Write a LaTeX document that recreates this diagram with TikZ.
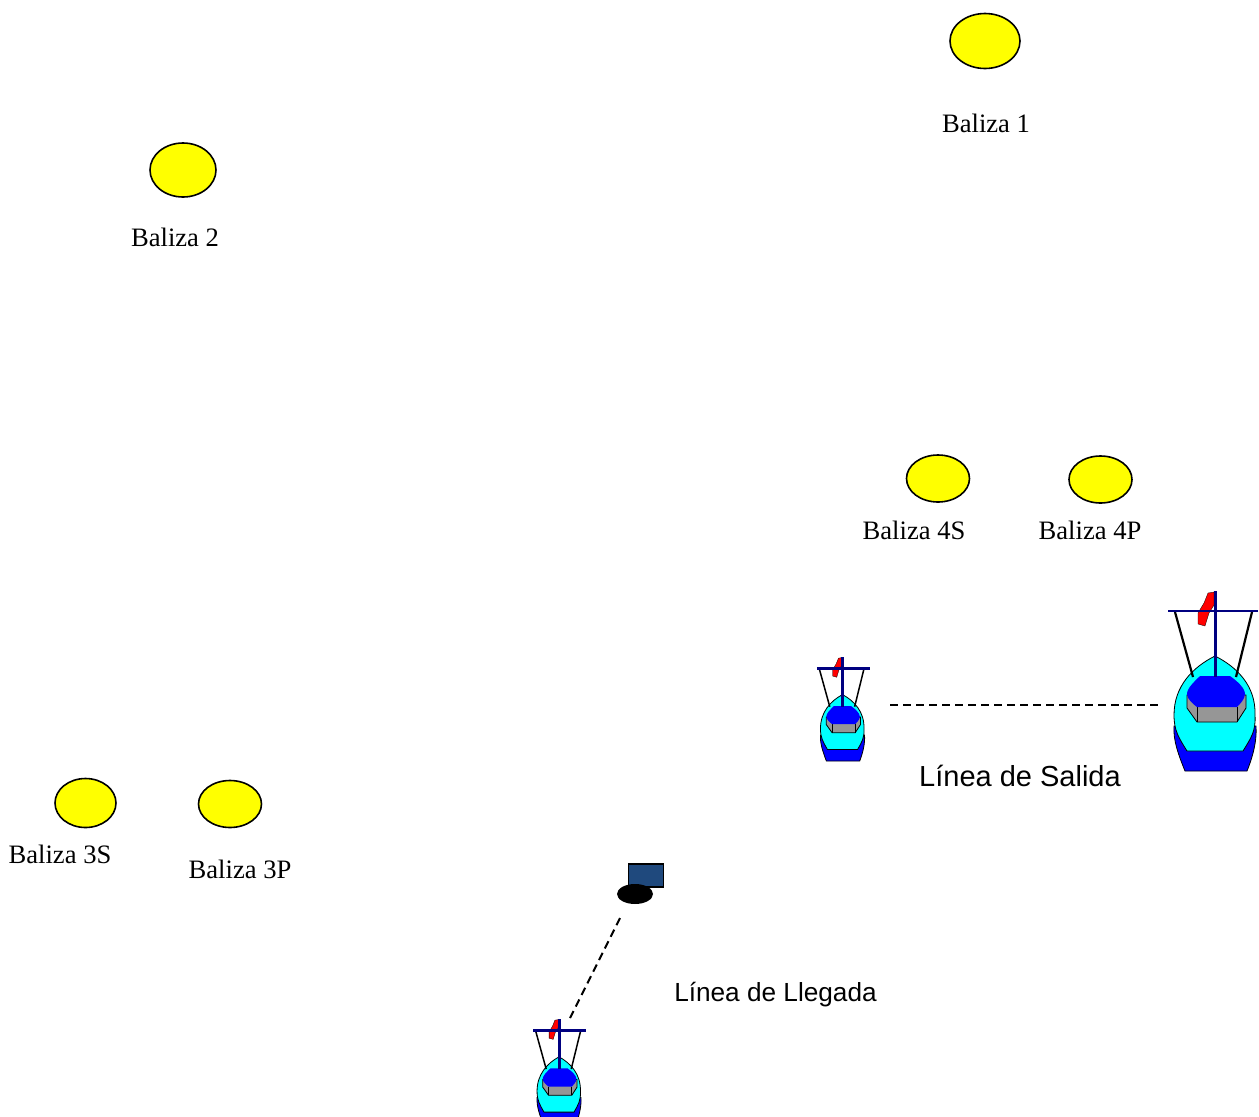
\documentclass[tikz,border=0pt]{standalone}
\usetikzlibrary{shapes.geometric}
\usepackage{fontspec}
\setmainfont{Liberation Serif}
\newfontfamily\arialfont{Liberation Sans}
\definecolor{hullblue}{RGB}{0,0,255}
\definecolor{hullcyan}{RGB}{0,255,255}
\definecolor{buoyyellow}{RGB}{255,255,0}
\definecolor{mastblue}{RGB}{0,0,128}
\definecolor{cabingrey}{RGB}{150,150,150}
\definecolor{monitorblue}{RGB}{31,73,125}
\tikzset{
  buoy/.style={ellipse,draw=black,fill=buoyyellow,line width=1.6pt,inner sep=0pt,outer sep=0pt},
  buoylabel/.style={font=\fontsize{26.6}{30}\selectfont,inner sep=0pt,text=black},
  linelabel/.style={inner sep=0pt,text=black},
  startline/.style={draw=black,line width=2pt,dash pattern=on 8pt off 5pt},
  hullpart/.style={draw=black,line width=.8pt},
  pics/boat/.style n args={4}{code={
    \begin{scope}[xscale=#1]
    \fill[hullblue,hullpart] (-41,135) .. controls (-42,150) and (-36,165) .. (-30,180) -- (32,180) .. controls (38,165) and (42,150) .. (41,135) -- cycle;
    \fill[hullcyan,hullpart] (0,65) .. controls (-22,76) and (-41,95) .. (-41,124) .. controls (-41,140) and (-36,147) .. (-28,160) -- (28,160) .. controls (36,147) and (41,140) .. (40,124) .. controls (41,95) and (22,76) .. (0,65) -- cycle;
    \end{scope}
    \draw[black,line width=#4] (-40,21) -- (-22,86);
    \draw[black,line width=#4] (37,21) -- (21,86);
    \fill[cabingrey,hullpart] (-28,104) -- (-28,117) -- (-18,131) -- (22,131) -- (31,117) -- (31,104) -- cycle;
    \draw[black,line width=.8pt] (-18,116) -- (-18,131) (22,116) -- (22,131);
    \fill[hullblue] (-15,85) -- (15,85) .. controls (22,90) and (30,97) .. (30,103) .. controls (30,108) and (25,113) .. (22,116) -- (-18,116) .. controls (-22,113) and (-28,108) .. (-28,103) .. controls (-28,97) and (-20,90) .. (-15,85) -- cycle;
    \fill[red,draw=black,line width=.3pt] (-1,1) -- (-7,2) -- (-11,12) -- (-17,22) -- (-17,33) -- (-10,35) -- (-6,22) -- (-1,14) -- cycle;
    \draw[mastblue,line width=3pt] (0,0) -- (0,86);
    \draw[mastblue,line width=2.6pt] (#2,20) -- (#3,20);
  }}
}
\begin{document}
\begin{tikzpicture}[x=1pt,y=-1pt]
\useasboundingbox (0,0) rectangle (1259,1117);

\node[buoy,minimum width=70pt,minimum height=55pt] (b1) at (985,41) {};
\node[buoy,minimum width=66pt,minimum height=54pt] (b2) at (183,170) {};
\node[buoy,minimum width=63pt,minimum height=47pt] (b4s) at (938,478.5) {};
\node[buoy,minimum width=63pt,minimum height=47pt] (b4p) at (1100.5,479.5) {};
\node[buoy,minimum width=61pt,minimum height=49pt] (b3s) at (85.5,803) {};
\node[buoy,minimum width=63pt,minimum height=47pt] (b3p) at (230,804) {};

\node[buoylabel] (l1) at (986,123) {Baliza 1};
\node[buoylabel] (l2) at (175,237) {Baliza 2};
\node[buoylabel] (l4s) at (914,530) {Baliza 4S};
\node[buoylabel] (l4p) at (1090,530) {Baliza 4P};
\node[buoylabel] (l3s) at (60,854) {Baliza 3S};
\node[buoylabel] (l3p) at (240,869) {Baliza 3P};

\node[linelabel,font=\arialfont\fontsize{29}{32}\selectfont] (salida) at (1020,776) {Línea de Salida};
\node[linelabel,font=\arialfont\fontsize{26.2}{30}\selectfont] (llegada) at (775.5,995) {Línea de Llegada};

\pic[scale=1] (bigboat) at (1215,591) {boat={1}{-47}{43}{2.2pt}};
\pic[scale=.578] (smallboat) at (842.5,657) {boat={.93}{-44.5}{47}{1.5pt}};
\begin{scope}
\clip (500,1000) rectangle (620,1117);
\pic[scale=.582] (endboat) at (559,1019) {boat={.92}{-44}{46}{1.5pt}};
\end{scope}

\node[draw=black,fill=monitorblue,line width=1.8pt,minimum width=35pt,minimum height=23pt,inner sep=0pt,outer sep=0pt] (monitor) at (646,875.5) {};
\node[ellipse,fill=black,minimum width=36pt,minimum height=20pt,inner sep=0pt,outer sep=0pt] (base) at (635,894) {};

\coordinate (sa) at (890,705);
\coordinate (sb) at (1160,705);
\coordinate (la) at (620,918);
\coordinate (lb) at (570,1018);
\draw[startline] (sa) -- (sb);
\draw[startline] (la) -- (lb);
\end{tikzpicture}
\end{document}
